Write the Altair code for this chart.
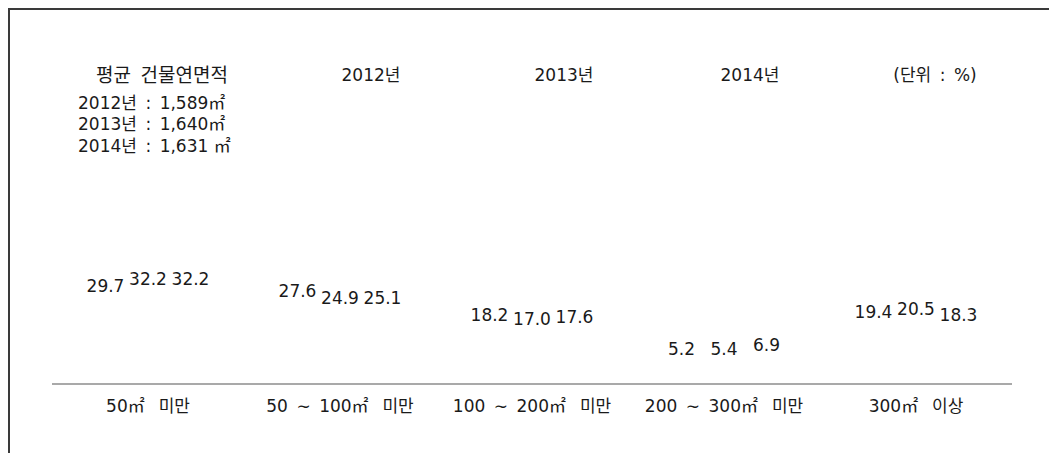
import altair as alt
import pandas as pd

# ---- data ----
EN = "\u2002"   # en space
GAP = "\u2002 "  # en space + space
categories = [f"50㎡{GAP}미만", f"50{EN}∼{EN}100㎡{GAP}미만", f"100{EN}∼{EN}200㎡{GAP}미만",
              f"200{EN}∼{EN}300㎡{GAP}미만", f"300㎡{GAP}이상"]
years = ["2012년", "2013년", "2014년"]
share_2012 = [29.7, 27.6, 18.2, 5.2, 19.4]
share_2013 = [32.2, 24.9, 17.0, 5.4, 20.5]
share_2014 = [32.2, 25.1, 17.6, 6.9, 18.3]
avg_area_lines = [f"2012년{EN}:{EN}1,589㎡", f"2013년{EN}:{EN}1,640㎡", f"2014년{EN}:{EN}1,631 ㎡"]
avg_area_title = f"평균{EN}건물연면적"
unit_label = f"(단위{EN}:{EN}%)"

rows = []
for yr, vals in zip(years, [share_2012, share_2013, share_2014]):
    for c, v in zip(categories, vals):
        rows.append({"category": c, "year": yr, "value": v})
df = pd.DataFrame(rows)
one = pd.DataFrame({"k": [0]})

FONT = "DejaVu Sans, Noto Sans CJK KR"
TXT = "#1a1a1a"
FS = 17

xenc = alt.X("category:N", sort=categories,
             scale=alt.Scale(type="band", paddingInner=0, paddingOuter=0),
             axis=alt.Axis(title=None, domain=False, ticks=False, grid=False,
                           labelAngle=0, labelFont=FONT, labelFontSize=FS,
                           labelColor=TXT, labelPadding=14, labelLimit=400))
yscale = alt.Scale(domain=[0, 80])
yenc = alt.Y("value:Q", scale=yscale, axis=None)

offsets = [-42.5, 0, 42.5]
label_layers = []
for yr, off in zip(years, offsets):
    label_layers.append(
        alt.Chart(df).transform_filter(alt.datum.year == yr)
        .mark_text(font=FONT, fontSize=FS, baseline="middle", dy=-20.5, dx=off, color=TXT)
        .encode(x=xenc, y=yenc, text=alt.Text("value:Q", format=".1f"))
    )

base_rule = alt.Chart(one).mark_rule(color="#8c8c8c", strokeWidth=1.5).encode(
    y=alt.YDatum(0, axis=None, scale=yscale)
)

frame_top = alt.Chart(one).mark_rule(color="#3a3a3a", strokeWidth=2).encode(
    x=alt.value(-44), x2=alt.value(997), y=alt.value(-168)
)
frame_left = alt.Chart(one).mark_rule(color="#3a3a3a", strokeWidth=2).encode(
    x=alt.value(-43), y=alt.value(-169), y2=alt.value(276)
)

title_txt = alt.Chart(one).mark_text(font=FONT, fontSize=19, color=TXT, align="center",
                                     baseline="middle").encode(
    x=alt.value(110), y=alt.value(-101), text=alt.value(avg_area_title)
)
year_hdr = []
for yr, xv in zip(years, [319, 512, 698]):
    year_hdr.append(
        alt.Chart(one).mark_text(font=FONT, fontSize=FS, color=TXT, align="center",
                                 baseline="middle").encode(
            x=alt.value(xv), y=alt.value(-101), text=alt.value(yr)
        )
    )
area_layers = []
for i, line in enumerate(avg_area_lines):
    area_layers.append(
        alt.Chart(one).mark_text(font=FONT, fontSize=FS, color=TXT, align="left",
                                 baseline="middle", dy=21.5 * (i - 1)).encode(
            x=alt.value(26), y=alt.value(-52), text=alt.value(line)
        )
    )
unit_txt = alt.Chart(one).mark_text(font=FONT, fontSize=FS, color=TXT, align="center",
                                    baseline="middle").encode(
    x=alt.value(883), y=alt.value(-101), text=alt.value(unit_label)
)

chart = alt.layer(*label_layers, base_rule, frame_top, frame_left, title_txt, *year_hdr,
                  *area_layers, unit_txt).properties(
    width=960, height=207,
    autosize=alt.AutoSizeParams(type="none"),
    padding={"left": 44, "top": 169, "right": 37, "bottom": 69},
).configure_view(stroke=None)

chart.save("out.html", embed_options={"renderer": "svg", "actions": False})
